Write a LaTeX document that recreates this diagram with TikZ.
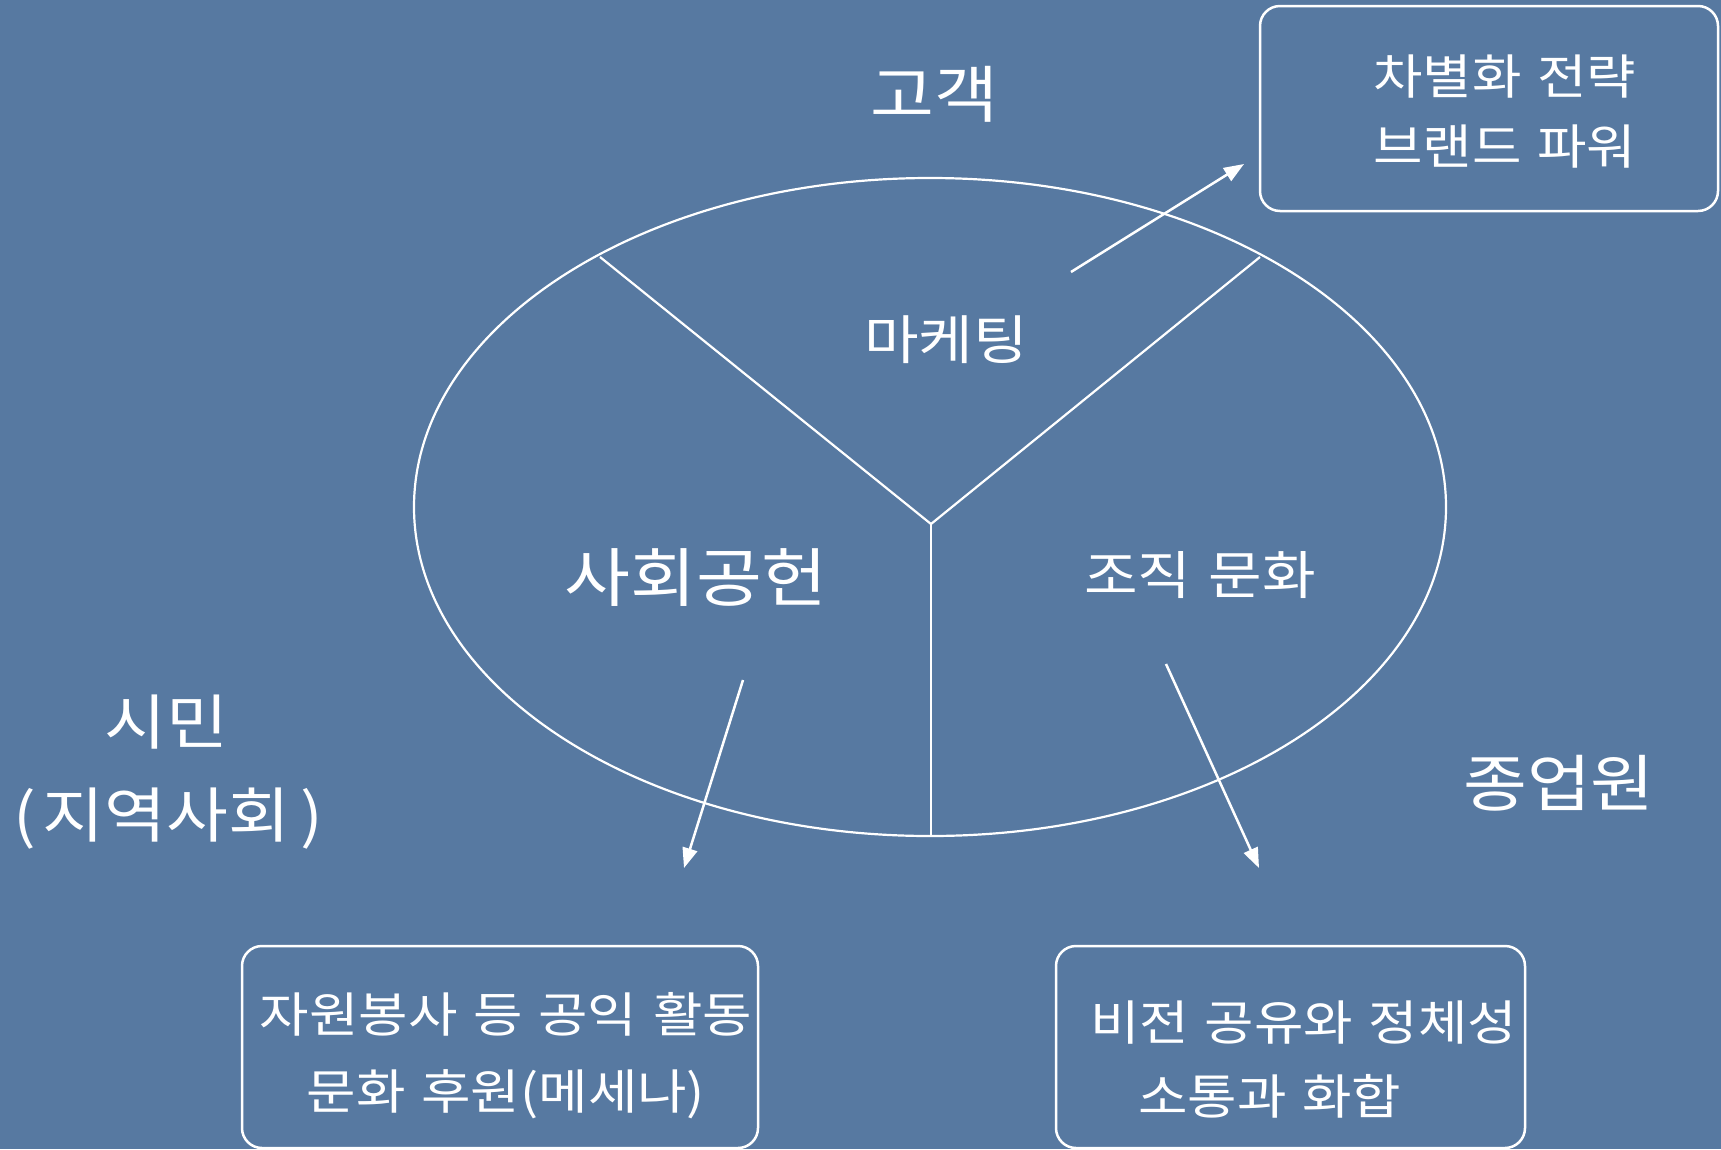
\documentclass[tikz,border=0pt]{standalone}
\usepackage{fontspec}
\setmainfont{Noto Sans CJK KR}[FakeStretch=1.12, WordSpace=1.3]
\usetikzlibrary{arrows.meta}
\definecolor{bgblue}{RGB}{87,121,161}
\begin{document}
\begin{tikzpicture}[x=1pt,y=-1pt,
  lbl/.style={text=white, inner sep=0pt},
  boxst/.style={draw=white, line width=2.5pt, rounded corners=20pt, inner sep=0pt},
  edge/.style={draw=white, line width=2.2pt},
  arr/.style={draw=white, line width=2.5pt, -{Triangle[length=20pt,width=15pt]}}]
  \fill[bgblue] (0,0) rectangle (1721,1149);
  \useasboundingbox (0,0) rectangle (1721,1149);

  % ellipse and Y split
  \draw[edge] (930,507) ellipse [x radius=516, y radius=329];
  \coordinate (Y) at (931,524);
  \coordinate (YL) at (600,257);
  \coordinate (YR) at (1260,257);
  \coordinate (YB) at (931,836);
  \draw[edge] (YL) -- (Y) -- (YR);
  \draw[edge] (Y) -- (YB);

  % boxes
  \node[boxst, minimum width=458pt, minimum height=205pt] (boxTR) at (1489,108.5) {};
  \node[boxst, minimum width=516pt, minimum height=202pt] (boxBL) at (500,1047) {};
  \node[boxst, minimum width=469pt, minimum height=202pt] (boxBR) at (1290.5,1047) {};

  % labels
  \node[lbl, font=\fontsize{62}{72}\selectfont] (gogaek) at (934,94) {고객};
  \node[lbl, font=\fontsize{53}{60}\selectfont] (mkt) at (946,340) {마케팅};
  \node[lbl, font=\fontsize{64}{76}\selectfont] (social) at (696,578) {사회공헌};
  \node[lbl, font=\fontsize{52}{62}\selectfont] (culture) at (1200,575) {조직 문화};
  \node[lbl, font=\fontsize{60}{72}\selectfont] (simin) at (166,722) {시민};
  \node[lbl, font=\fontsize{60}{72}\selectfont] (region) at (168,819) {(\kern7pt 지역사회\kern10pt)};
  \node[lbl, font=\fontsize{62}{74}\selectfont] (staff) at (1559,783) {종업원};

  \node[lbl, anchor=west, align=left, font=\fontsize{48}{70}\selectfont] (txtTR) at (1373,112)
    {차별화 전략\\브랜드 파워};
  \node[lbl, align=center, font=\fontsize{48}{77}\selectfont] (txtBL) at (506,1056)
    {자원봉사 등 공익 활동\\문화 후원(메세나)};
  \node[lbl, anchor=west, align=left, font=\fontsize{48}{74}\selectfont] (txtBR) at (1090,1060)
    {비전 공유와 정체성\\\hspace*{48pt}소통과 화합};

  % arrows
  \coordinate (a1s) at (1071,272);
  \coordinate (a1e) at (1244,164);
  \coordinate (a2s) at (743,680);
  \coordinate (a2e) at (684,868);
  \coordinate (a3s) at (1166,664);
  \coordinate (a3e) at (1259,868);
  \draw[arr] (a1s) -- (a1e);
  \draw[arr] (a2s) -- (a2e);
  \draw[arr] (a3s) -- (a3e);
\end{tikzpicture}
\end{document}
